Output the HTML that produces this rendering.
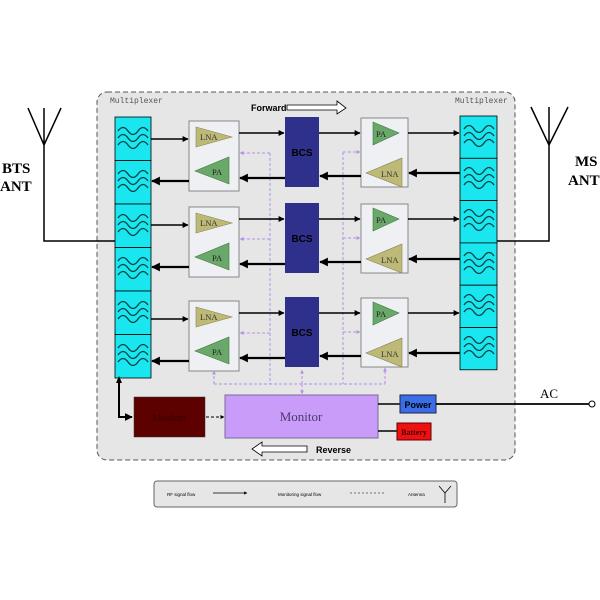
<!DOCTYPE html>
<html><head><meta charset="utf-8"><style>
body{margin:0;background:#fff}
svg{display:block}
</style></head><body>
<svg width="600" height="600" viewBox="0 0 600 600" xmlns="http://www.w3.org/2000/svg" font-family="Liberation Sans, sans-serif">
<defs>
<marker id="a" viewBox="0 0 10 10" refX="9" refY="5" markerWidth="4" markerHeight="4" orient="auto"><path d="M0,0L10,5L0,10z" fill="#000"/></marker>
<marker id="p" viewBox="0 0 10 10" refX="9" refY="5" markerWidth="4" markerHeight="4" orient="auto"><path d="M0,0L10,5L0,10z" fill="#b490e8"/></marker>
<g id="w"><path d="M6,13 q5,-7 10,0 t10,0 t10,0" fill="none" stroke="#0a4040" stroke-width="1.3"/><path d="M6,20 q5,-7 10,0 t10,0 t10,0" fill="none" stroke="#0a4040" stroke-width="1.3"/><path d="M6,27 q5,-7 10,0 t10,0 t10,0" fill="none" stroke="#0a4040" stroke-width="1.3"/></g>
<g id="row">
<rect x="189" y="121" width="50" height="70" fill="#eef0f4" stroke="#888"/>
<polygon points="196,127 232,137 196,147" fill="#bdb977" stroke="#8a8650" stroke-width=".6"/>
<text x="200" y="140" font-family="Liberation Serif, serif" font-size="8.5" fill="#333">LNA</text>
<polygon points="229,157 229,184 195,171" fill="#6aa86a" stroke="#3f7a3f" stroke-width=".6"/>
<text x="212" y="175" font-family="Liberation Serif, serif" font-size="8.5" fill="#222">PA</text>
<rect x="285" y="117" width="34" height="70" fill="#2f2f8c"/>
<text x="302" y="156" font-size="10" font-weight="bold" fill="#000" text-anchor="middle">BCS</text>
<rect x="361" y="118" width="47" height="69" fill="#eef0f4" stroke="#888"/>
<polygon points="373,122 399,133 373,145" fill="#6aa86a" stroke="#3f7a3f" stroke-width=".6"/>
<text x="376" y="137" font-family="Liberation Serif, serif" font-size="8.5" fill="#222">PA</text>
<polygon points="402,158 402,187 366,173" fill="#bdb977" stroke="#8a8650" stroke-width=".6"/>
<text x="381" y="177" font-family="Liberation Serif, serif" font-size="8.5" fill="#333">LNA</text>
<g stroke="#000" fill="none">
<line x1="151" y1="139" x2="188" y2="139" stroke-width="1.5" marker-end="url(#a)"/>
<line x1="239" y1="133" x2="284" y2="133" stroke-width="1.5" marker-end="url(#a)"/>
<line x1="319" y1="133" x2="360" y2="133" stroke-width="1.5" marker-end="url(#a)"/>
<line x1="408" y1="133" x2="459" y2="133" stroke-width="1.5" marker-end="url(#a)"/>
<line x1="460" y1="173" x2="409" y2="173" stroke-width="2.2" marker-end="url(#a)"/>
<line x1="361" y1="176" x2="320" y2="176" stroke-width="2.2" marker-end="url(#a)"/>
<line x1="285" y1="178" x2="240" y2="178" stroke-width="2.2" marker-end="url(#a)"/>
<line x1="189" y1="181" x2="152" y2="181" stroke-width="2.2" marker-end="url(#a)"/>
</g>
<g stroke="#b490e8" stroke-dasharray="3,2" fill="none">
<line x1="270" y1="153" x2="240" y2="153" marker-end="url(#p)"/>
<line x1="343" y1="152" x2="360" y2="152" marker-end="url(#p)"/>
</g>
</g>
</defs>
<rect x="97" y="92" width="418" height="368" rx="10" fill="#e6e6e6" stroke="#555" stroke-dasharray="5,3"/>
<text x="110" y="103" font-family="Liberation Mono, monospace" font-size="8" fill="#555">Multiplexer</text>
<text x="455" y="103" font-family="Liberation Mono, monospace" font-size="8" fill="#555">Multiplexer</text>
<g stroke="#b490e8" stroke-dasharray="3,2" fill="none">
<line x1="270" y1="153" x2="270" y2="384"/>
<line x1="343" y1="152" x2="343" y2="384"/>
<line x1="214" y1="384" x2="385" y2="384"/>
<line x1="214" y1="384" x2="214" y2="371" marker-end="url(#p)"/>
<line x1="385" y1="384" x2="385" y2="368" marker-end="url(#p)"/>
<line x1="302" y1="384" x2="302" y2="370" marker-end="url(#p)"/>
<line x1="302" y1="384" x2="302" y2="394" marker-end="url(#p)"/>
</g>
<use href="#row"/>
<use href="#row" transform="translate(0,86)"/>
<use href="#row" transform="translate(0,180)"/>
<g stroke="#000" stroke-width=".8" fill="#19e6ef">
<rect x="115" y="117" width="36" height="43.5"/><rect x="115" y="160.5" width="36" height="43.5"/>
<rect x="115" y="204" width="36" height="43.5"/><rect x="115" y="247.5" width="36" height="43.5"/>
<rect x="115" y="291" width="36" height="43.5"/><rect x="115" y="334.5" width="36" height="43.5"/>
<rect x="460" y="116" width="37" height="42.3"/><rect x="460" y="158.3" width="37" height="42.3"/>
<rect x="460" y="200.6" width="37" height="42.3"/><rect x="460" y="242.9" width="37" height="42.3"/>
<rect x="460" y="285.2" width="37" height="42.3"/><rect x="460" y="327.5" width="37" height="42.3"/>
</g>
<use href="#w" x="112" y="118"/><use href="#w" x="112" y="161"/><use href="#w" x="112" y="205"/>
<use href="#w" x="112" y="248"/><use href="#w" x="112" y="292"/><use href="#w" x="112" y="335"/>
<use href="#w" x="458" y="116"/><use href="#w" x="458" y="158"/><use href="#w" x="458" y="200"/>
<use href="#w" x="458" y="243"/><use href="#w" x="458" y="285"/><use href="#w" x="458" y="327"/>
<g stroke="#000" stroke-width="1.5" fill="none">
<path d="M28,108 L44,145 L61,108 M44,108 L44,241 L115,241"/>
<path d="M531,107 L549,145 L568,107 M549,107 L549,241 L497,241"/>
</g>
<text x="2" y="173" font-family="Liberation Serif, serif" font-size="15" font-weight="bold">BTS</text>
<text x="0" y="191" font-family="Liberation Serif, serif" font-size="15" font-weight="bold">ANT</text>
<text x="575" y="166" font-family="Liberation Serif, serif" font-size="15" font-weight="bold">MS</text>
<text x="568" y="185" font-family="Liberation Serif, serif" font-size="15" font-weight="bold">ANT</text>
<text x="251" y="111" font-size="9" font-weight="bold">Forward</text>
<path d="M287,105 L337,105 L337,101 L346,108 L337,114 L337,110 L287,110 z" fill="#fff" stroke="#000" stroke-width=".8"/>
<path d="M307,446 L262,446 L262,442 L252,449 L262,456 L262,452 L307,452 z" fill="#fff" stroke="#000" stroke-width=".8"/>
<text x="316" y="453" font-size="9" font-weight="bold">Reverse</text>
<path d="M119,380 L119,417 L132,417" stroke="#000" stroke-width="2" fill="none" marker-end="url(#a)"/>
<polygon points="119,376 116,383 122,383" fill="#000"/>
<rect x="134" y="397" width="71" height="40" fill="#5c0000" stroke="#333" stroke-width=".5"/>
<text x="169" y="421" font-family="Liberation Serif, serif" font-size="11" fill="#3a0000" text-anchor="middle">Modem</text>
<line x1="206" y1="417" x2="224" y2="417" stroke="#000" stroke-dasharray="3,2" marker-end="url(#a)"/>
<rect x="225" y="395" width="153" height="43" fill="#c89cf8" stroke="#7a6aa0"/>
<text x="301" y="421" font-family="Liberation Serif, serif" font-size="13" fill="#4a3a70" text-anchor="middle">Monitor</text>
<line x1="378" y1="404" x2="400" y2="404" stroke="#000" stroke-width="1.5"/>
<line x1="378" y1="431" x2="397" y2="431" stroke="#000" stroke-width="1.5"/>
<rect x="400" y="395" width="36" height="18" fill="#3a6ee8" stroke="#224"/>
<text x="418" y="408" font-size="9" font-weight="bold" text-anchor="middle" fill="#000">Power</text>
<rect x="397" y="423" width="34" height="17" fill="#ee1111" stroke="#600"/>
<text x="414" y="435" font-family="Liberation Serif, serif" font-size="8" font-weight="bold" text-anchor="middle" fill="#400">Battery</text>
<line x1="436" y1="404" x2="589" y2="404" stroke="#000" stroke-width="1.8"/>
<circle cx="592" cy="404" r="3" fill="#fff" stroke="#000"/>
<text x="540" y="398" font-family="Liberation Serif, serif" font-size="13">AC</text>
<rect x="154" y="481" width="303" height="26" rx="3" fill="#e6e6e6" stroke="#666"/>
<text x="167" y="496" font-size="4.5">RF signal flow</text>
<line x1="213" y1="493" x2="247" y2="493" stroke="#000" stroke-width=".8" marker-end="url(#a)"/>
<text x="278" y="496" font-size="4.5">Monitoring signal flow</text>
<line x1="350" y1="493" x2="386" y2="493" stroke="#000" stroke-width=".6" stroke-dasharray="2,2"/>
<text x="408" y="496" font-size="4.5">Antenna</text>
<path d="M439,486 L445,493 L451,486 M445,493 L445,503" stroke="#000" fill="none" stroke-width=".8"/>
</svg>
</body></html>
